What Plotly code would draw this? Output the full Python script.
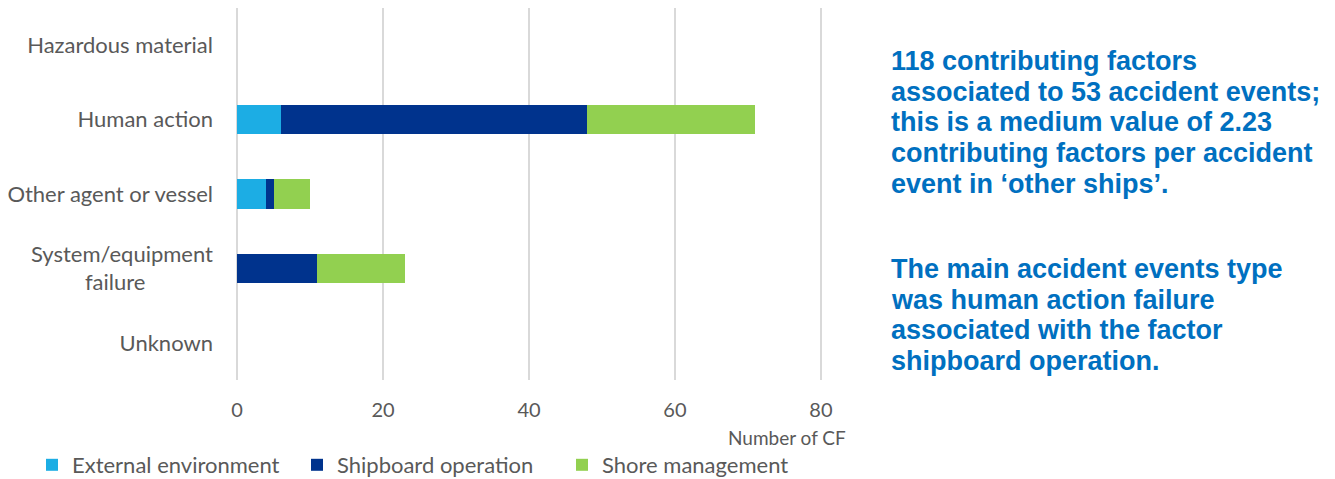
import plotly.graph_objects as go

categories = ["Hazardous material", "Human action", "Other agent or vessel",
              "System/equipment<br>failure" + "\u00a0" * 12, "Unknown"]
external_env = [0, 6, 4, 0, 0]
shipboard_op = [0, 42, 1, 11, 0]
shore_mgmt = [0, 23, 5, 12, 0]
series_names = ["External environment", "Shipboard operation", "Shore management"]
colors = ["#1CADE4", "#00338D", "#92D050"]
x_ticks = [0, 20, 40, 60, 80]

OFF = 8  # page body margin (figure drawn 8px from the window's top-left)
W, H = 1335 - OFF, 479 - OFF
L, R, T, B = 236 - OFF, 513, 0, 99
PW = W - L - R
PH = H - T - B


def px(xp):
    return (xp - OFF - L) / PW


def py(yp):
    return (H - B - (yp - OFF)) / PH


fig = go.Figure()
for name, vals, col in zip(series_names, [external_env, shipboard_op, shore_mgmt], colors):
    fig.add_trace(go.Bar(y=categories, x=vals, name=name, orientation="h",
                         marker=dict(color=col, line=dict(width=0)), width=0.4))

fig.update_layout(
    barmode="stack",
    width=W, height=H,
    plot_bgcolor="white", paper_bgcolor="white",
    margin=dict(l=L, r=R, t=T, b=B, autoexpand=False),
    font=dict(family="Lato, Open Sans, sans-serif", size=20, color="#595959"),
    xaxis=dict(range=[-0.15, 80.15], tickvals=x_ticks, showgrid=True, gridcolor="#D9D9D9",
               gridwidth=1.5, zeroline=True, zerolinecolor="#D9D9D9", zerolinewidth=1.5,
               ticks="", ticklabelstandoff=16, automargin=False,
               tickfont=dict(size=20, color="#595959"), fixedrange=True),
    yaxis=dict(categoryorder="array", categoryarray=categories[::-1], autorange=False,
               range=[-0.5, 4.5], showgrid=False, ticks="", ticklabelstandoff=22,
               automargin=False, tickfont=dict(size=22, color="#595959")),
    legend=dict(orientation="h", x=px(32), y=py(465), xref="paper", yref="paper",
                yanchor="middle", xanchor="left", font=dict(size=22, color="#595959"),
                itemwidth=30, traceorder="normal", entrywidth=220,
                entrywidthmode="pixels"),
    showlegend=True,
)

fig.add_annotation(text="Number of CF", xref="paper", yref="paper", x=px(848), y=py(437),
                   xanchor="right", yanchor="middle", showarrow=False,
                   font=dict(size=19, color="#595959"))

txt_font = dict(family="Liberation Sans, Arial, sans-serif", size=27, color="#0070C0")
para1 = ["118 contributing factors", "associated to 53 accident events;",
         "this is a medium value of 2.23", "contributing factors per accident",
         "event in ‘other ships’."]
para2 = ["The main accident events type", "was human action failure",
         "associated with the factor", "shipboard operation."]
for start, lines in [(61, para1), (269, para2)]:
    for i, line in enumerate(lines):
        fig.add_annotation(text="<b>" + line + "</b>", xref="paper", yref="paper",
                           x=px(889), y=py(start + i * 30.7), xanchor="left",
                           yanchor="middle", align="left", showarrow=False,
                           font=txt_font)

fig.write_html("out.html")
